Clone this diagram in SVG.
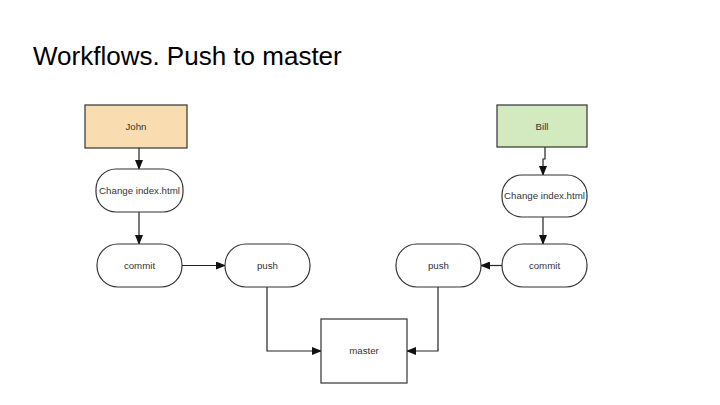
<svg xmlns="http://www.w3.org/2000/svg" width="720" height="405" viewBox="0 0 720 405">
<defs>
<marker id="ah" markerWidth="10" markerHeight="8" refX="9" refY="4" orient="auto" markerUnits="userSpaceOnUse">
<path d="M0,0 L10,4 L0,8 Z" fill="#111"/>
</marker>
<style>
.n{fill:#fff;stroke:#333;stroke-width:1.2}
.t{font-family:"Liberation Sans",Arial,sans-serif;font-size:9.7px;fill:#333;text-anchor:middle}
.c{fill:none;stroke:#222;stroke-width:1.2;marker-end:url(#ah)}
</style>
</defs>
<rect width="720" height="405" fill="#fff"/>
<text x="33" y="65" font-family="'Liberation Sans',Arial,sans-serif" font-size="26" fill="#000">Workflows. Push to master</text>
<g id="connectors">
<path class="c" d="M139,148 V169"/>
<path class="c" d="M139,212 V244"/>
<path class="c" d="M182,265.5 H225"/>
<path class="c" d="M545,147 V159 H543 V175"/>
<path class="c" d="M543,217 V244"/>
<path class="c" d="M502,265.5 H481"/>
<path class="c" d="M267,287 V351 H321"/>
<path class="c" d="M438,287 V351 H407"/>
</g>
<g id="john">
<rect x="85" y="105" width="102" height="43" fill="#f9ddb0" stroke="#333" stroke-width="1.2"/>
<text class="t" x="136" y="130">John</text>
</g>
<g id="bill">
<rect x="497" y="105" width="90" height="42" fill="#d3eabe" stroke="#333" stroke-width="1.2"/>
<text class="t" x="542" y="130">Bill</text>
</g>
<g id="change-john">
<rect class="n" x="96" y="169" width="87" height="43" rx="20"/>
<text class="t" x="139.5" y="194">Change index.html</text>
</g>
<g id="change-bill">
<rect class="n" x="502" y="175" width="85" height="42" rx="20"/>
<text class="t" x="544.5" y="199">Change index.html</text>
</g>
<g id="commit-john">
<rect class="n" x="97" y="244" width="85" height="43" rx="21"/>
<text class="t" x="139.5" y="269">commit</text>
</g>
<g id="push-john">
<rect class="n" x="225" y="244" width="85" height="43" rx="21"/>
<text class="t" x="267.5" y="269">push</text>
</g>
<g id="push-bill">
<rect class="n" x="396" y="244" width="85" height="43" rx="21"/>
<text class="t" x="438.5" y="269">push</text>
</g>
<g id="commit-bill">
<rect class="n" x="502" y="244" width="85" height="43" rx="21"/>
<text class="t" x="544.5" y="269">commit</text>
</g>
<g id="master">
<rect class="n" x="321" y="319" width="86" height="64"/>
<text class="t" x="364" y="354">master</text>
</g>
</svg>
